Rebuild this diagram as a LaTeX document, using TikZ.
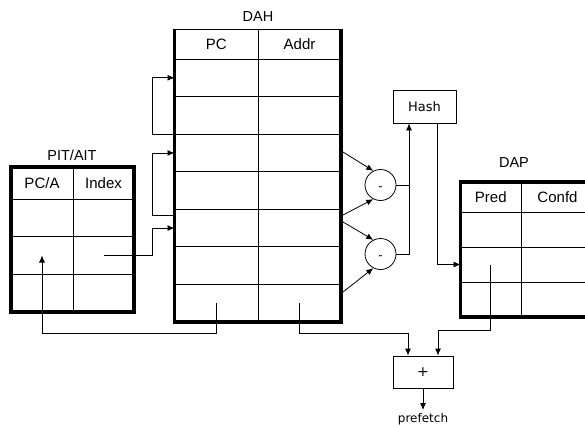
\documentclass[tikz,border=0pt]{standalone}
\usepackage{fontspec}
\setmainfont{Liberation Sans}
\newfontfamily\dejavu{DejaVu Sans}
\usetikzlibrary{arrows.meta}

\begin{document}
\begin{tikzpicture}[
        x=1pt, y=-1pt,
        cell/.style={rectangle, draw, line width=0.8pt, anchor=north west, inner sep=0pt, outer sep=0pt, font=\fontsize{15}{18}\selectfont},
        dahpc/.style={cell, minimum width=83.5pt, minimum height=37.57pt},
        dahaddr/.style={cell, minimum width=83pt, minimum height=37.57pt},
        pitpca/.style={cell, minimum width=62pt, minimum height=37.67pt},
        pitidx/.style={cell, minimum width=61pt, minimum height=37.67pt},
        dappred/.style={cell, minimum width=60.5pt, minimum height=35pt},
        dapconfd/.style={cell, minimum width=73pt, minimum height=35pt},
        outline/.style={line width=3.5pt},
        title/.style={font=\fontsize{14.5}{17}\selectfont},
        sub/.style={circle, draw, line width=0.8pt, minimum size=31pt, inner sep=0pt, text height=10pt, text depth=0pt, font=\dejavu\fontsize{12}{14}\selectfont},
        box/.style={rectangle, draw, line width=0.8pt, minimum width=63pt, minimum height=33pt, inner sep=0pt, font=\dejavu\fontsize{13}{15}\selectfont},
        wire/.style={line width=0.8pt},
        arrow/.style={->, >={Latex[length=7pt,width=6pt]}, line width=0.8pt}
    ]
    \useasboundingbox (0,0) rectangle (585,426);
    \clip (0,0) rectangle (585,426);

    % Table DAH
    \node[title] (dah_title) at (258,17) {DAH};
    \node[dahpc, minimum height=30pt] (dah_pc0) at (174.5,29) {PC};
    \node[dahaddr, minimum height=30pt] (dah_addr0) at (258,29) {Addr};
    \node[dahpc] (dah_pc1) at (174.5,59) {};     \node[dahaddr] (dah_addr1) at (258,59) {};
    \node[dahpc] (dah_pc2) at (174.5,96.57) {};  \node[dahaddr] (dah_addr2) at (258,96.57) {};
    \node[dahpc] (dah_pc3) at (174.5,134.14) {}; \node[dahaddr] (dah_addr3) at (258,134.14) {};
    \node[dahpc] (dah_pc4) at (174.5,171.71) {}; \node[dahaddr] (dah_addr4) at (258,171.71) {};
    \node[dahpc] (dah_pc5) at (174.5,209.29) {}; \node[dahaddr] (dah_addr5) at (258,209.29) {};
    \node[dahpc] (dah_pc6) at (174.5,246.86) {}; \node[dahaddr] (dah_addr6) at (258,246.86) {};
    \node[dahpc] (dah_pc7) at (174.5,284.43) {}; \node[dahaddr] (dah_addr7) at (258,284.43) {};
    \draw[outline] (dah_pc0.north west) -- (dah_pc7.south west) -- (dah_addr7.south east) -- (dah_addr0.north east);

    % Table PIT/AIT
    \node[title] (pit_title) at (72,155) {PIT/AIT};
    \node[pitpca, minimum height=32pt] (pit_pca0) at (11,167) {PC/A};
    \node[pitidx, minimum height=32pt] (pit_idx0) at (73,167) {Index};
    \node[pitpca] (pit_pca1) at (11,199) {};     \node[pitidx] (pit_idx1) at (73,199) {};
    \node[pitpca] (pit_pca2) at (11,236.67) {};  \node[pitidx] (pit_idx2) at (73,236.67) {};
    \node[pitpca] (pit_pca3) at (11,274.33) {};  \node[pitidx] (pit_idx3) at (73,274.33) {};
    \draw[outline] (pit_pca0.north west) rectangle (pit_idx3.south east);

    % Table DAP
    \node[title] (dap_title) at (514,163) {DAP};
    \node[dappred, minimum height=30pt] (dap_pred0) at (460.5,182) {Pred};
    \node[dapconfd, minimum height=30pt] (dap_confd0) at (521,182) {Confd};
    \node[dappred] (dap_pred1) at (460.5,212) {};  \node[dapconfd] (dap_confd1) at (521,212) {};
    \node[dappred] (dap_pred2) at (460.5,247) {};  \node[dapconfd] (dap_confd2) at (521,247) {};
    \node[dappred] (dap_pred3) at (460.5,282) {};  \node[dapconfd] (dap_confd3) at (521,282) {};
    \draw[outline] (dap_pred0.north west) rectangle (dap_confd3.south east);

    % Subtractors, hash and adder
    \node[sub] (sub_1) at (380.5,185) {-};
    \node[sub] (sub_2) at (380.5,254) {-};
    \node[box] (hash) at (424.5,106.5) {Hash};
    \node[box, minimum width=60pt, minimum height=32pt, font=\dejavu\fontsize{14}{16}\selectfont] (plus) at (423,372) {+};
    \node[font=\dejavu\fontsize{12}{14}\selectfont, inner sep=0pt] (prefetch) at (423,419) {prefetch};

    % Taps on the right side of DAH
    \coordinate (tap_1) at (343,152);
    \coordinate (tap_2) at (343,215);
    \coordinate (tap_3) at (343,222);
    \coordinate (tap_4) at (343,292);
    \coordinate (loop_2) at (174.5,215);

    % Loops back into DAH
    \draw[arrow] (dah_pc3.north west) -- ++(-22,0) |- (dah_pc1.west);
    \draw[arrow] (loop_2) -- ++(-22,0) |- (dah_pc3.west);
    \draw[arrow] (pit_idx2.center) -- ++(49,0) |- (dah_pc5.west);
    \draw[arrow] (dah_pc7.center) -- ++(0,30) -| (pit_pca2.center);

    % Differences
    \draw[arrow] (tap_1) -- (sub_1.117);
    \draw[arrow] (tap_2) -- (sub_1.243);
    \draw[arrow] (tap_3) -- (sub_2.117);
    \draw[arrow] (tap_4) -- (sub_2.243);
    \draw[wire] (sub_1.east) -- ++(13,0);
    \draw[arrow] (sub_2.east) -| ([xshift=-15.5pt]hash.south);
    \draw[arrow] ([xshift=12.5pt]hash.south) |- (dap_pred2.west);

    % Prefetch address
    \draw[arrow] (dah_addr7.center) -- ++(0,30) -| ([xshift=-15pt]plus.north);
    \draw[arrow] (dap_pred2.center) -- ++(0,66) -| ([xshift=15pt]plus.north);
    \draw[arrow, shorten >=3pt] (plus.south) -- (prefetch.north);

\end{tikzpicture}
\end{document}
